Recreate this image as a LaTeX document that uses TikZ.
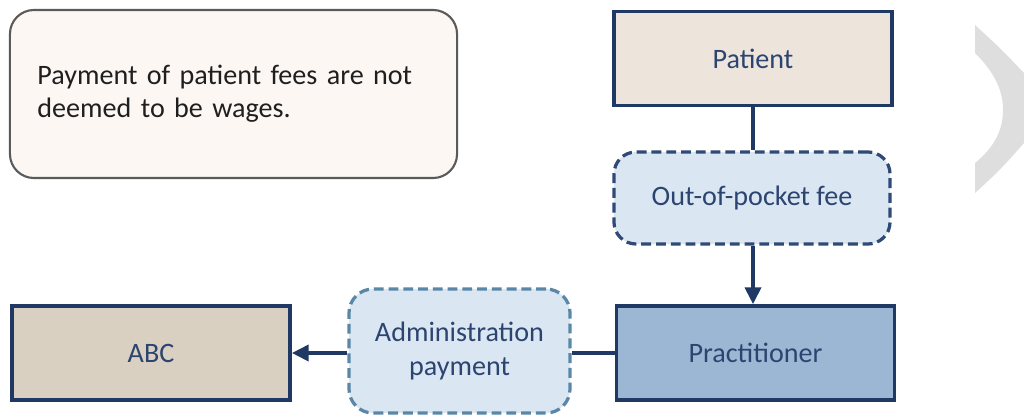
\documentclass[tikz,border=0pt]{standalone}
\usepackage{fontspec}
\setmainfont{Carlito}
\usetikzlibrary{arrows.meta}
\definecolor{navy}{HTML}{1F3864}
\definecolor{textblue}{HTML}{2B4470}
\definecolor{notefill}{HTML}{FCF7F3}
\definecolor{notegray}{HTML}{5A5A5A}
\definecolor{patientfill}{HTML}{EDE5DC}
\definecolor{abcfill}{HTML}{D9D0C1}
\definecolor{practfill}{HTML}{9BB7D3}
\definecolor{feefill}{HTML}{DAE6F1}
\definecolor{feeline}{HTML}{2F4A75}
\definecolor{adminline}{HTML}{5A87A7}
\definecolor{arcgray}{HTML}{DEDEDE}
\begin{document}
\begin{tikzpicture}[x=0.025cm,y=-0.025cm,every node/.style={font=\fontsize{20}{23.5}\selectfont}]
\tikzstyle{note} = [draw=notegray,line width=1.5pt,fill=notefill,rounded corners=0.6cm,minimum width=11.175cm,minimum height=4.2cm,text width=9.8cm,align=left,text=black!88]
\tikzstyle{party} = [draw=navy,line width=2.6pt,text=textblue,minimum width=6.95cm,minimum height=2.35cm]
\tikzstyle{flow} = [draw,line width=2.3pt,dash pattern=on 7pt off 3.5pt,fill=feefill,text=textblue,rounded corners=0.55cm,align=center]
\tikzstyle{link} = [navy,line width=2.6pt]

\useasboundingbox (0,0) rectangle (1024,417);
\fill[arcgray] (975,25) -- (975,53) .. controls (996,74) and (1003,92) .. (1003,110) .. controls (1003,128) and (996,146) .. (975,163) -- (975,193) .. controls (1000,170) .. (1024,143) -- (1024,73) .. controls (1000,48) .. (975,25) -- cycle;

\node [note] (v1) at (233.5,94) {Payment of patient fees are not\\deemed to be wages.};
\node [party,fill=patientfill] (v2) at (753,58.5) {Patient};
\node [flow,draw=feeline,minimum width=6.9cm,minimum height=2.3cm] (v3) at (752,198) {Out-of-pocket fee};
\node [party,fill=practfill] (v4) at (755.5,353) {Practitioner};
\node [flow,draw=adminline,minimum width=5.525cm,minimum height=3.1cm,rounded corners=0.6cm] (v5) at (459.5,351) {Administration\\payment};
\node [party,fill=abcfill] (v6) at (151,353) {ABC};

\draw[link] (v2.south -| 753,0) -- (v3.north -| 753,0);
\draw[link,-{Triangle[length=0.42cm,width=0.4cm]}] (v3.south -| 753,0) -- (v4.north -| 753,0);
\draw[link] (v4.west) -- (v4.west -| v5.east);
\draw[link,-{Triangle[length=0.42cm,width=0.4cm]}] (v6.east -| v5.west) -- (v6.east);
\end{tikzpicture}
\end{document}
